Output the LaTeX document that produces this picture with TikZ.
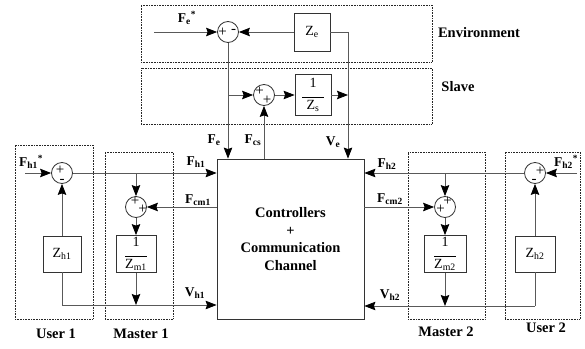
\documentclass[tikz,border=0pt]{standalone}
\usepackage{fontspec}
\setmainfont{Liberation Serif}
\usetikzlibrary{arrows.meta,positioning}

\newcommand{\invz}[1]{1\\[-5pt]\rule{22pt}{0.6pt}\\[-3pt]Z\textsubscript{#1}}

\begin{document}
\begin{tikzpicture}[x=1pt, y=-1pt,
    grp/.style={draw=black!85, densely dotted, line width=0.6pt, inner sep=0},
    blk/.style={draw=black!80, line width=0.8pt, inner sep=0, align=center,
                font=\fontsize{14}{15}\selectfont},
    sumc/.style={draw=black!80, circle, line width=0.8pt, minimum size=21pt, inner sep=0},
    sgn/.style={inner sep=0, font=\fontsize{15}{15}\selectfont},
    lab/.style={inner sep=0, font=\bfseries\fontsize{13.5}{14}\selectfont},
    ttl/.style={inner sep=0, font=\bfseries\fontsize{14.5}{16}\selectfont},
    wire/.style={draw=black!65, line width=0.8pt},
    arr/.style={wire, -{Stealth[length=11pt, width=8.5pt, inset=1.5pt, color=black]}},
]
\useasboundingbox (0,0) rectangle (585,348);

\node[grp, minimum width=291pt, minimum height=57pt] (envbox) at (286.5,33.5) {};
\node[grp, minimum width=291pt, minimum height=56pt] (slvbox) at (286.5,96) {};
\node[grp, minimum width=78pt, minimum height=174pt] (usr1box) at (54,232) {};
\node[grp, minimum width=68pt, minimum height=167pt] (mst1box) at (139,235.5) {};
\node[grp, minimum width=77pt, minimum height=167pt] (mst2box) at (446.5,235.5) {};
\node[grp, minimum width=75pt, minimum height=167pt] (usr2box) at (542.5,235.5) {};

\node[ttl] (envlbl) at (479,33) {Environment};
\node[ttl] (slvlbl) at (458,87) {Slave};
\node[ttl] (usr1lbl) at (56,334) {User 1};
\node[ttl] (mst1lbl) at (141,334) {Master 1};
\node[ttl] (mst2lbl) at (446,332) {Master 2};
\node[ttl] (usr2lbl) at (546,328) {User 2};

\node[blk, minimum width=147pt, minimum height=160pt,
      font=\bfseries\fontsize{14.5}{17.7}\selectfont] (cc) at (290.5,239)
      {Controllers\\+\\Communication\\Channel};

\node[sumc] (se) at (228,32) {};
\node[blk, minimum width=36pt, minimum height=38pt] (ze) at (312,32) {Z\textsubscript{e}};
\node[sumc] (ss) at (264,95) {};
\node[blk, minimum width=36pt, minimum height=41pt] (zs) at (313,95) {\invz{s}};

\node[sumc] (sh1) at (62,173) {};
\node[sumc] (sm1) at (136,207) {};
\node[blk, minimum width=38pt, minimum height=36pt] (zh1) at (62,254) {Z\textsubscript{h1}};
\node[blk, minimum width=40pt, minimum height=37pt] (zm1) at (136,254) {\invz{m1}};

\node[sumc] (sh2) at (535,173) {};
\node[sumc] (sm2) at (445,207) {};
\node[blk, minimum width=40pt, minimum height=36pt] (zh2) at (535,254) {Z\textsubscript{h2}};
\node[blk, minimum width=42pt, minimum height=37pt] (zm2) at (445,254) {\invz{m2}};

\node[sgn] (se1) at (222.5,32) {+};
\node[sgn] (se2) at (233.5,31) {-};
\node[sgn] (ss1) at (259.5,91.5) {+};
\node[sgn] (ss2) at (267,100.5) {+};
\node[sgn] (sh11) at (60,170) {+};
\node[sgn] (sh12) at (62,181) {-};
\node[sgn] (sm11) at (135,201.5) {+};
\node[sgn] (sm12) at (142.5,209) {+};
\node[sgn] (sm21) at (447.5,201) {+};
\node[sgn] (sm22) at (440.5,209) {+};
\node[sgn] (sh21) at (540,171) {+};
\node[sgn] (sh22) at (534,181) {-};

\coordinate (fein) at (154,32);
\coordinate (vcor) at (348,32);
\draw[arr] (fein) -- (se);
\draw[arr] (ze) -- (se);
\draw[wire] (ze) -- (vcor);
\draw[arr] (vcor) -- (vcor |- cc.north);
\draw[arr] (se) -- (se |- cc.north);
\draw[arr] (se |- ss) -- (ss);
\draw[arr] (ss) -- (zs);
\draw[arr] (zs) -- (zs -| vcor);
\draw[arr] (cc.north -| ss) -- (ss);

\coordinate (fh1in) at (25,173);
\coordinate (v1cor) at (62,305);
\draw[arr] (fh1in) -- (sh1);
\draw[arr] (sh1) -- (sh1 -| cc.west);
\draw[arr] (sh1 -| sm1) -- (sm1);
\draw[arr] (zh1) -- (sh1);
\draw[arr] (cc.west |- sm1) -- (sm1);
\draw[arr] (sm1) -- (zm1);
\draw[wire] (zh1) -- (v1cor);
\draw[arr] (v1cor) -- (v1cor -| cc.west);
\draw[arr] (zm1) -- (zm1 |- v1cor);

\coordinate (fh2in) at (577,173);
\coordinate (v2cor) at (535,306);
\draw[arr] (fh2in) -- (sh2);
\draw[arr] (sh2) -- (sh2 -| cc.east);
\draw[arr] (sh2 -| sm2) -- (sm2);
\draw[arr] (zh2) -- (sh2);
\draw[arr] (cc.east |- sm2) -- (sm2);
\draw[arr] (sm2) -- (zm2);
\draw[wire] (zh2) -- (v2cor);
\draw[arr] (v2cor) -- (v2cor -| cc.east);
\draw[arr] (zm2) -- (zm2 |- v2cor);

\node[lab] (felbl0) at (187,18) {F\textsubscript{e}\textsuperscript{*}};
\node[lab] (felbl) at (214,140) {F\textsubscript{e}};
\node[lab] (fcslbl) at (253,140) {F\textsubscript{cs}};
\node[lab] (velbl) at (333,142) {V\textsubscript{e}};
\node[lab] (fh1lbl0) at (31,162) {F\textsubscript{h1}\textsuperscript{*}};
\node[lab] (fh1lbl) at (196,162) {F\textsubscript{h1}};
\node[lab] (fcm1lbl) at (198,200) {F\textsubscript{cm1}};
\node[lab] (vh1lbl) at (195,293) {V\textsubscript{h1}};
\node[lab] (fh2lbl0) at (566,162) {F\textsubscript{h2}\textsuperscript{*}};
\node[lab] (fh2lbl) at (387,164) {F\textsubscript{h2}};
\node[lab] (fcm2lbl) at (390,199) {F\textsubscript{cm2}};
\node[lab] (vh2lbl) at (390,295) {V\textsubscript{h2}};
\end{tikzpicture}
\end{document}
